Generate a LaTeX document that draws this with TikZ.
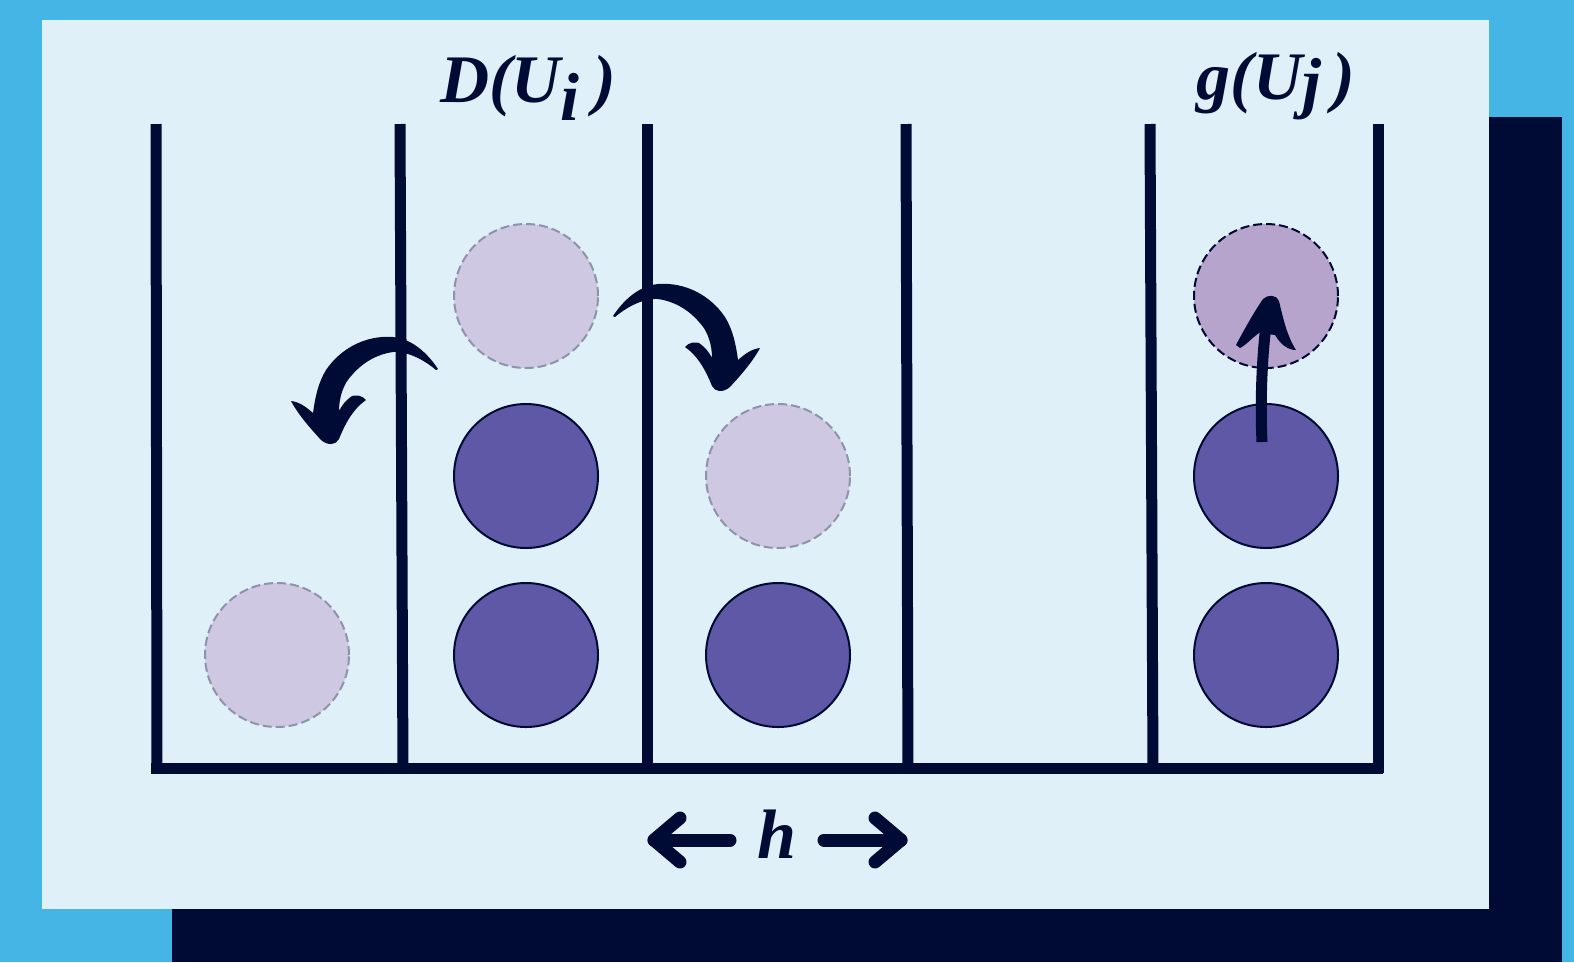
\documentclass[tikz,border=0pt]{standalone}
\usepackage{fontspec}
\setmainfont{Liberation Serif}
\newfontface\lblface{Liberation Serif Bold Italic}
\definecolor{skyblue}{HTML}{45B5E6}
\definecolor{navy}{HTML}{000B35}
\definecolor{panel}{HTML}{E0F0F9}
\definecolor{ballfill}{HTML}{5F58A6}
\definecolor{ghostfill}{HTML}{CFC8E2}
\definecolor{ghostline}{HTML}{8E93AB}
\definecolor{movedfill}{HTML}{B7A4CC}
\begin{document}
\begin{tikzpicture}[x=1pt,y=-1pt,
  wall/.style={line width=11pt, draw=navy},
  ball/.style={circle, minimum size=144pt, inner sep=0pt, line width=2pt},
  full/.style={ball, fill=ballfill, draw=navy},
  ghost/.style={ball, fill=ghostfill, draw=ghostline, dash pattern=on 9pt off 4pt},
  moved/.style={ball, fill=movedfill, draw=navy, dash pattern=on 9pt off 4pt},
  lbl/.style={font=\fontsize{68}{80}\lblface, text=navy, inner sep=0pt},
  harrow/.style={line width=13pt, draw=navy, line cap=round, line join=round},
  swoop/.pic={
    \fill[navy] (0,1) .. controls (-10,-14) and (-25,-29) .. (-45,-31)
      .. controls (-72,-33) and (-97,-20) .. (-112,2)
      .. controls (-120,15) and (-123,30) .. (-125,45)
      .. controls (-133,38) and (-139,34) .. (-147,33)
      .. controls (-139,48) and (-126,62) .. (-117,72)
      .. controls (-110,78) and (-102,77) .. (-99,71)
      .. controls (-93,56) and (-85,41) .. (-72,32)
      .. controls (-76,27) and (-82,27) .. (-86,28)
      .. controls (-92,32) and (-96,37) .. (-99,43)
      .. controls (-99,30) and (-95,16) .. (-86,7)
      .. controls (-75,-6) and (-60,-14) .. (-45,-16)
      .. controls (-28,-17) and (-10,-5) .. (-2,2) -- cycle;
  }
]
% backdrop, shadow and panel
\fill[skyblue] (0,0) rectangle (1574,962);
\fill[navy] (172,117) rectangle (1562,962);
\fill[panel] (42,20) rectangle (1489,909);
\useasboundingbox (0,0) rectangle (1574,962);

% container walls and floor
\draw[wall] (156,124) -- (157,773);
\draw[wall] (400,124) -- (403,773);
\draw[wall] (647,124) -- (647,773);
\draw[wall] (906,124) -- (908,773);
\draw[wall] (1150,124) -- (1153,773);
\draw[wall] (1378,124) -- (1378,773);
\draw[wall] (151,768) -- (1383,768);

% balls
\node[ghost] (a1) at (277,655) {};
\node[full]  (b1) at (526,655) {};
\node[full]  (b2) at (526,476) {};
\node[ghost] (b3) at (526,296) {};
\node[full]  (c1) at (778,655) {};
\node[ghost] (c2) at (778,476) {};
\node[full]  (e1) at (1266,655) {};
\node[full]  (e2) at (1266,476) {};
\node[moved] (e3) at (1266,296) {};

% labels
\node[lbl, anchor=base] (dl) at (528,102) {D(U\raisebox{-0.27em}{i}\hspace{0.2em})};
\node[lbl, anchor=base] (gl) at (1276,99) {g(U\raisebox{-0.1em}{j}\hspace{0.16em})};

% curved arrows over the walls
\pic at (438,368) {swoop};
\pic[xscale=-1] at (613,315) {swoop};

% upward arrow
\draw[navy, line width=11pt] (1262,442) .. controls (1260,400) and (1262,350) .. (1268,310);
\fill[navy] (1236,345) .. controls (1244,330) and (1254,312) .. (1263,299)
  .. controls (1268,294) and (1277,295) .. (1279,301)
  .. controls (1283,318) and (1287,336) .. (1296,350)
  .. controls (1288,350) and (1281,345) .. (1275,335)
  -- (1259,333) .. controls (1252,338) and (1246,345) .. (1240,348) -- cycle;

% width marker
\node[lbl, font=\fontsize{70}{80}\lblface, anchor=base] (h) at (777,858) {h};
\coordinate (hl) at (654,840);
\coordinate (hr) at (901,840);
\draw[harrow] (730,840) -- (hl);
\draw[harrow] (680,818) -- (hl) -- (680,862);
\draw[harrow] (824,840) -- (hr);
\draw[harrow] (875,818) -- (hr) -- (875,862);
\end{tikzpicture}
\end{document}
